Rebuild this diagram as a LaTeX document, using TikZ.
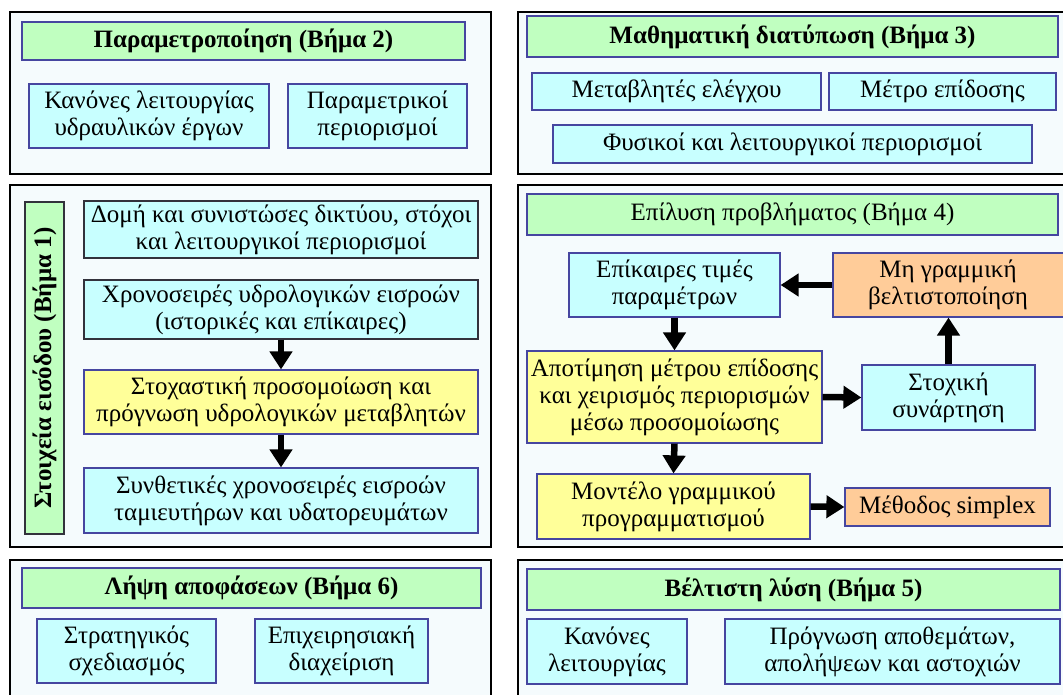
\documentclass[tikz,border=0pt]{standalone}
\usepackage{fontspec}
\setmainfont{Liberation Serif}
\usetikzlibrary{arrows.meta}
\definecolor{grn}{RGB}{192,255,192}
\definecolor{cyn}{RGB}{200,255,255}
\definecolor{ylw}{RGB}{255,255,153}
\definecolor{org}{RGB}{255,204,153}
\definecolor{bdr}{RGB}{70,70,160}
\definecolor{dbdr}{RGB}{50,50,60}
\definecolor{pnl}{RGB}{245,251,253}
\begin{document}
\begin{tikzpicture}[x=1pt,y=-1pt,
  rr/.style args={#1/#2/#3/#4}{at={({(#1+#3)/2},{(#2+#4)/2})},
     minimum width={(#3-#1)*1pt}, minimum height={(#4-#2)*1pt}},
  panel/.style={draw=black, line width=2.6pt, fill=pnl, inner sep=0pt},
  box/.style={draw=bdr, line width=1.2pt, inner sep=0pt, align=center,
     font=\fontsize{25}{27}\selectfont},
  gbox/.style={box, fill=grn, font=\fontsize{25}{27}\selectfont\bfseries},
  cbox/.style={box, fill=cyn},
  ybox/.style={box, fill=ylw},
  obox/.style={box, fill=org},
  arr/.style={line width=6.5pt, -{Triangle[width=22pt,length=18pt]}}
]
\useasboundingbox (0,0) rectangle (1063,695);
\fill[white] (0,0) rectangle (1063,695);
\clip (0,0) rectangle (1063,695);

% ---------- panels ----------
\node[panel, rr=10/12/491/174] (p2) {};
\node[panel, rr=518/12/1080/174] (p3) {};
\node[panel, rr=10/185/491/547] (p1) {};
\node[panel, rr=518/185/1080/547] (p4) {};
\node[panel, rr=10/560/491/720] (p6) {};
\node[panel, rr=518/560/1080/720] (p5) {};

% ---------- Step 2 ----------
\node[gbox, rr=22/22/465/60] (t2) {Παραμετροποίηση (Βήμα 2)};
\node[cbox, rr=29/84/269/148] (k2) {Κανόνες λειτουργίας\\υδραυλικών έργων};
\node[cbox, rr=288/84/467/148] (pp2) {Παραμετρικοί\\περιορισμοί};

% ---------- Step 3 ----------
\node[gbox, rr=527/16/1058/57] (t3) {Μαθηματική διατύπωση (Βήμα 3)};
\node[cbox, rr=532/73/821/110] (m3) {Μεταβλητές ελέγχου};
\node[cbox, rr=829/73/1056/110] (me3) {Μέτρο επίδοσης};
\node[cbox, rr=553/125/1032/163] (f3) {Φυσικοί και λειτουργικοί περιορισμοί};

% ---------- Step 1 ----------
\node[gbox, draw=dbdr, rr=25/202/64/534] (t1) {};
\node[font=\fontsize{25}{27}\selectfont\bfseries, rotate=90] at (t1.center) {Στοιχεία εισόδου (Βήμα 1)};
\node[cbox, draw=dbdr, rr=84/201/478/258] (d1) {Δομή και συνιστώσες δικτύου, στόχοι\\και λειτουργικοί περιορισμοί};
\node[cbox, draw=dbdr, rr=84/280/478/339] (x1) {Χρονοσειρές υδρολογικών εισροών\\(ιστορικές και επίκαιρες)};
\node[ybox, rr=84/370/478/434] (s1) {Στοχαστική προσομοίωση και\\πρόγνωση υδρολογικών μεταβλητών};
\node[cbox, rr=84/468/478/533] (sy1) {Συνθετικές χρονοσειρές εισροών\\ταμιευτήρων και υδατορευμάτων};
\draw[arr] (x1.south) -- (s1.north);
\draw[arr] (s1.south) -- (sy1.north);

% ---------- Step 4 ----------
\node[box, fill=grn, rr=527/194/1058/235] (t4) {Επίλυση προβλήματος (Βήμα 4)};
\node[cbox, rr=569/253/780/317] (e4) {Επίκαιρες τιμές\\παραμέτρων};
\node[obox, rr=833/253/1090/317] (n4) {};
\node[font=\fontsize{25}{27}\selectfont, align=center] at (948,285) {Μη γραμμική\\βελτιστοποίηση};
\node[ybox, rr=527/351/822/443] (a4) {Αποτίμηση μέτρου επίδοσης\\και χειρισμός περιορισμών\\μέσω προσομοίωσης};
\node[cbox, rr=862/365/1035/430] (o4) {Στοχική\\συνάρτηση};
\node[ybox, rr=537/474/810/539] (l4) {Μοντέλο γραμμικού\\προγραμματισμού};
\node[obox, rr=845/488/1050/526] (sx4) {Μέθοδος simplex};
\draw[arr] (n4.west |- e4.east) -- (e4.east);
\draw[arr] (e4.south) -- (a4.north);
\draw[arr] (a4.east) -- (o4.west);
\draw[arr] (o4.north) -- (o4.north |- n4.south);
\draw[arr] (a4.south) -- (l4.north);
\draw[arr] (l4.east) -- (sx4.west);

% ---------- Step 6 ----------
\node[gbox, rr=22/568/481/608] (t6) {Λήψη αποφάσεων (Βήμα 6)};
\node[cbox, rr=37/619/216/683] (st6) {Στρατηγικός\\σχεδιασμός};
\node[cbox, rr=255/619/428/683] (ep6) {Επιχειρησιακή\\διαχείριση};

% ---------- Step 5 ----------
\node[gbox, rr=527/569/1060/610] (t5) {Βέλτιστη λύση (Βήμα 5)};
\node[cbox, rr=527/619/687/684] (k5) {Κανόνες\\λειτουργίας};
\node[cbox, rr=725/619/1060/684] (pr5) {Πρόγνωση αποθεμάτων,\\απολήψεων και αστοχιών};
\end{tikzpicture}
\end{document}
